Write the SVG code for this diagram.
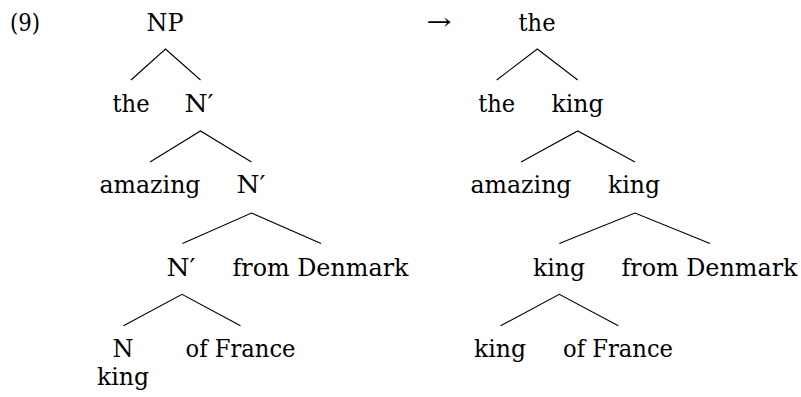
<svg xmlns="http://www.w3.org/2000/svg" width="801" height="397" viewBox="0 0 801 397">
  <style>
    .lbl { font-family: 'DejaVu Serif', 'Liberation Serif', serif; font-size: 24px; fill: #000; text-anchor: middle; }
    .edge { stroke: #000; stroke-width: 1.1; fill: none; }
  </style>
  <rect width="801" height="397" fill="#fff"/>

  <!-- example number and arrow -->
  <text class="lbl" x="10" y="31" style="text-anchor:start" textLength="30" lengthAdjust="spacingAndGlyphs">(9)</text>
  <text class="lbl" x="439" y="30" textLength="25" lengthAdjust="spacingAndGlyphs">→</text>

  <!-- connectors -->
  <g id="connectors">
    <!-- left tree -->
    <path class="edge" d="M131 80 L165.5 49 L200.5 80"/>
    <path class="edge" d="M150 162 L200.5 131 L251.5 162"/>
    <path class="edge" d="M182.5 243.5 L251.5 213 L321 243.5"/>
    <path class="edge" d="M123.5 325.7 L182 294.3 L240.5 325.7"/>
    <!-- right tree -->
    <path class="edge" d="M496.7 80 L537.3 49 L577.7 80"/>
    <path class="edge" d="M521 162 L577.7 131 L635 162"/>
    <path class="edge" d="M559.3 243.5 L635 213 L710 243.5"/>
    <path class="edge" d="M500.7 325.7 L559.3 294.3 L618.3 325.7"/>
  </g>

  <!-- left tree nodes -->
  <g id="l-np"><text class="lbl" x="165" y="31" textLength="37" lengthAdjust="spacingAndGlyphs">NP</text></g>
  <g id="l-the"><text class="lbl" x="131" y="112" textLength="37" lengthAdjust="spacingAndGlyphs">the</text></g>
  <g id="l-nbar1"><text class="lbl" x="199" y="112" textLength="29" lengthAdjust="spacingAndGlyphs">N′</text></g>
  <g id="l-amazing"><text class="lbl" x="150" y="193" textLength="101" lengthAdjust="spacingAndGlyphs">amazing</text></g>
  <g id="l-nbar2"><text class="lbl" x="251" y="193" textLength="29" lengthAdjust="spacingAndGlyphs">N′</text></g>
  <g id="l-nbar3"><text class="lbl" x="181" y="276" textLength="29" lengthAdjust="spacingAndGlyphs">N′</text></g>
  <g id="l-from-denmark"><text class="lbl" x="320.5" y="276" textLength="176" lengthAdjust="spacingAndGlyphs">from Denmark</text></g>
  <g id="l-n"><text class="lbl" x="123" y="357" textLength="21" lengthAdjust="spacingAndGlyphs">N</text></g>
  <g id="l-of-france"><text class="lbl" x="240.5" y="357" textLength="110" lengthAdjust="spacingAndGlyphs">of France</text></g>
  <g id="l-king"><text class="lbl" x="123" y="385" textLength="52" lengthAdjust="spacingAndGlyphs">king</text></g>

  <!-- right tree nodes -->
  <g id="r-root"><text class="lbl" x="537" y="31" textLength="37" lengthAdjust="spacingAndGlyphs">the</text></g>
  <g id="r-the"><text class="lbl" x="496.7" y="112" textLength="37" lengthAdjust="spacingAndGlyphs">the</text></g>
  <g id="r-king1"><text class="lbl" x="577.5" y="112" textLength="52" lengthAdjust="spacingAndGlyphs">king</text></g>
  <g id="r-amazing"><text class="lbl" x="521" y="193" textLength="101" lengthAdjust="spacingAndGlyphs">amazing</text></g>
  <g id="r-king2"><text class="lbl" x="634" y="193" textLength="52" lengthAdjust="spacingAndGlyphs">king</text></g>
  <g id="r-king3"><text class="lbl" x="559" y="276" textLength="52" lengthAdjust="spacingAndGlyphs">king</text></g>
  <g id="r-from-denmark"><text class="lbl" x="709.5" y="276" textLength="176" lengthAdjust="spacingAndGlyphs">from Denmark</text></g>
  <g id="r-king4"><text class="lbl" x="500" y="357" textLength="52" lengthAdjust="spacingAndGlyphs">king</text></g>
  <g id="r-of-france"><text class="lbl" x="618" y="357" textLength="110" lengthAdjust="spacingAndGlyphs">of France</text></g>
</svg>
